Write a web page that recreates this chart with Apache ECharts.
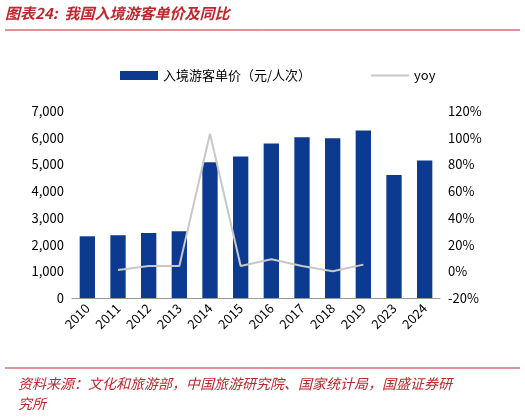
<!DOCTYPE html>
<html><head><meta charset="utf-8">
<script src="https://cdn.jsdelivr.net/npm/echarts@6/dist/echarts.min.js"></script>
<style>body{margin:0;background:#fff}</style>
</head><body>
<div id="main" style="width:525px;height:418px"></div>
<script>
var years = ['2010','2011','2012','2013','2014','2015','2016','2017','2018','2019','2023','2024'];
var price = [2310, 2350, 2430, 2500, 5080, 5300, 5780, 6020, 5980, 6270, 4600, 5150];
var yoy = [null, 1, 4, 4, 103, 4, 9, 4, 0, 5, null, null];
var font = '"Noto Sans CJK SC", sans-serif';
var chart = echarts.init(document.getElementById('main'));
chart.setOption({
  animation: false,
  textStyle: { fontFamily: font },
  graphic: [
    { type: 'text', left: 5, top: 6, style: { text: '图表24:  我国入境游客单价及同比', fill: '#c0262d', font: 'italic bold 15px ' + font } },
    { type: 'line', shape: { x1: 5, y1: 30, x2: 520, y2: 30 }, style: { stroke: '#c0262d', lineWidth: 1 } },
    { type: 'line', shape: { x1: 5, y1: 368, x2: 520, y2: 368 }, style: { stroke: '#c0262d', lineWidth: 1 } },
    { type: 'text', left: 18, top: 374, style: { text: '资料来源：文化和旅游部，中国旅游研究院、国家统计局，国盛证券研\n究所', fill: '#c0262d', font: 'italic 14px ' + font, lineHeight: 20 } }
  ],
  legend: {
    top: 64, left: 115, itemGap: 60,
    itemWidth: 38, itemHeight: 9,
    textStyle: { fontSize: 13, color: '#000' },
    data: [
      { name: '入境游客单价（元/人次）', icon: 'rect' },
      { name: 'yoy', icon: 'path://M0,0 L40,0 L40,2 L0,2 Z', itemStyle: { color: '#c8c8c8' } }
    ]
  },
  grid: { left: 72, right: 85, top: 111, bottom: 120 },
  xAxis: {
    type: 'category', data: years,
    axisLine: { lineStyle: { color: '#999' } },
    axisTick: { show: false },
    axisLabel: { rotate: 45, color: '#000', fontSize: 13, margin: 8 }
  },
  yAxis: [
    { type: 'value', min: 0, max: 7000, interval: 1000,
      axisLabel: { color: '#000', fontSize: 13, formatter: function (v) { return v.toLocaleString('en-US'); } },
      splitLine: { show: false }, axisLine: { show: false }, axisTick: { show: false } },
    { type: 'value', min: -20, max: 120, interval: 20,
      axisLabel: { color: '#000', fontSize: 13, formatter: '{value}%' },
      splitLine: { show: false }, axisLine: { show: false }, axisTick: { show: false } }
  ],
  series: [
    { name: '入境游客单价（元/人次）', type: 'bar', data: price, barWidth: '50%',
      itemStyle: { color: '#0d3a91' } },
    { name: 'yoy', type: 'line', yAxisIndex: 1, data: yoy, symbol: 'none',
      lineStyle: { color: '#c8c8c8', width: 2 }, itemStyle: { color: '#c8c8c8' } }
  ]
});
</script>
</body></html>
